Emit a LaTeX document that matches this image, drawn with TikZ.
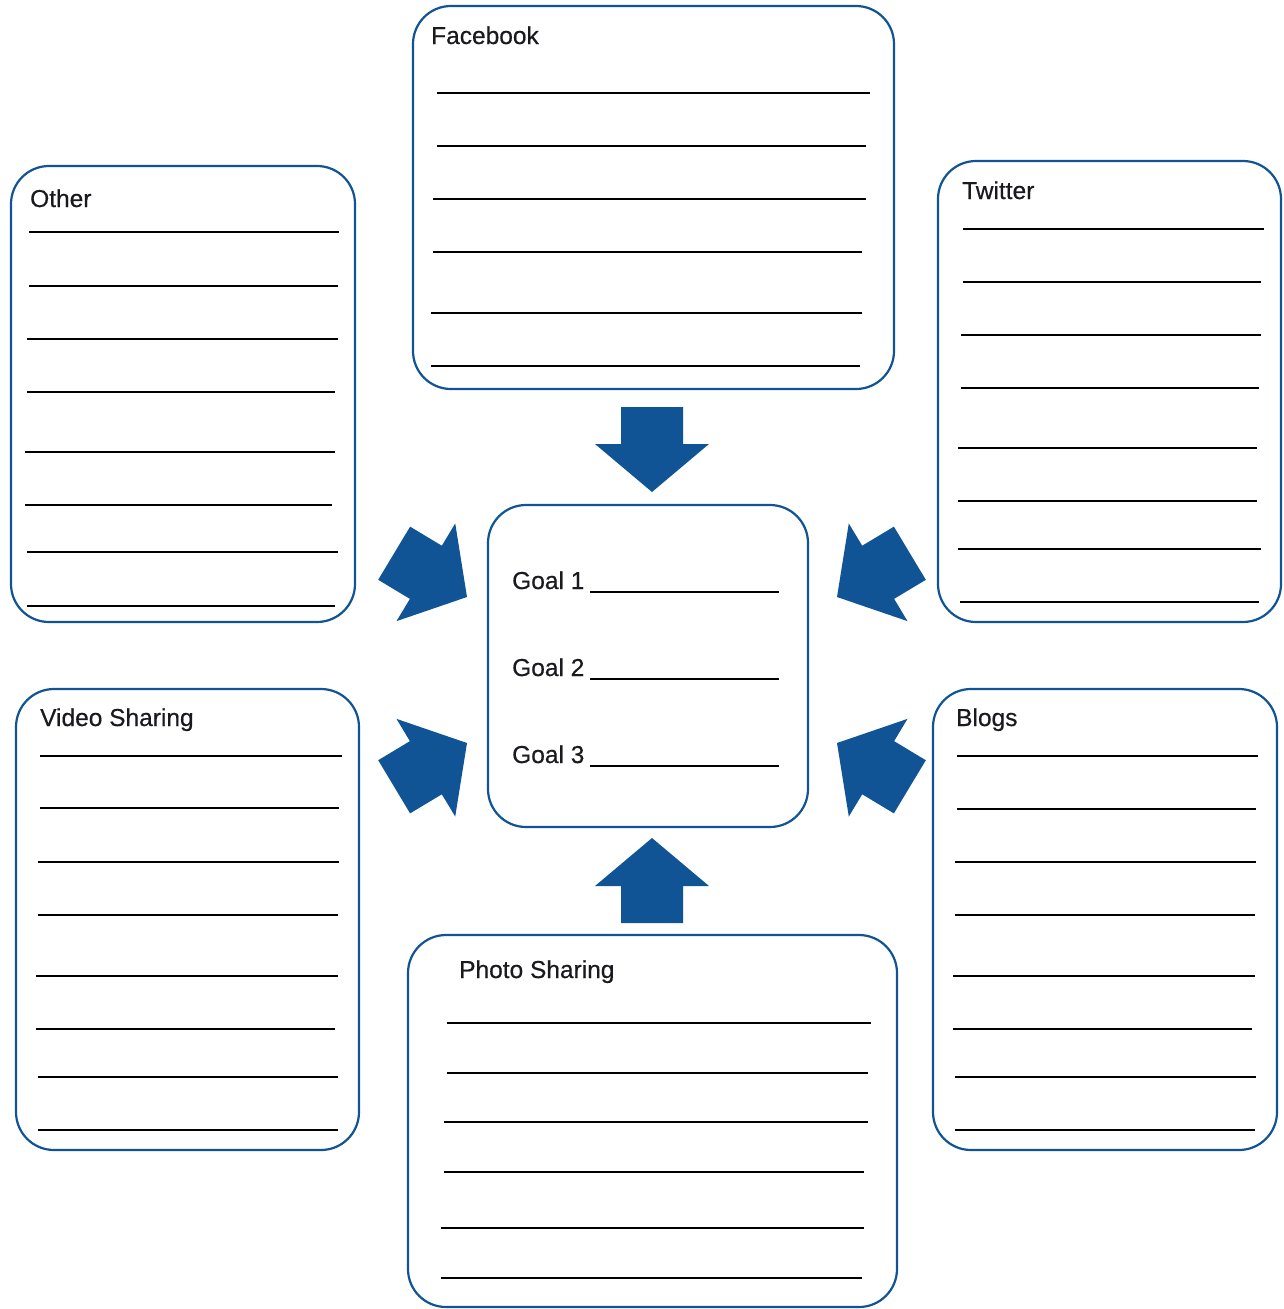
\documentclass[tikz,border=0pt]{standalone}
\usepackage{fontspec}
\setmainfont{Liberation Sans}
\newfontfamily\titlefont{Liberation Sans}[FakeBold=0.5]
\definecolor{sheetblue}{RGB}{16,84,150}
\definecolor{inkgray}{RGB}{25,25,30}
\tikzset{
  card/.style={draw=sheetblue,line width=2.2pt,rounded corners=38pt},
  rule/.style={line width=1.8pt},
  cardtitle/.style={anchor=base west,inner sep=0pt,text=inkgray,font=\titlefont\fontsize{24.5}{28}\selectfont},
  bigarrow/.style={fill=sheetblue},
}
% block arrow: #1 tip, #2 direction
\newcommand{\blockarrow}[2]{%
  \fill[bigarrow,shift={#1},rotate=#2] (0,0) -- (-48pt,57pt) -- (-48pt,31pt) -- (-85pt,31pt)
    -- (-85pt,-31pt) -- (-48pt,-31pt) -- (-48pt,-57pt) -- cycle;}

\begin{document}
\begin{tikzpicture}[x=1pt,y=-1pt]
\useasboundingbox (0,0) rectangle (1283,1309);

% the cards
\draw[card] (413,6) rectangle (894,389);
\draw[card] (11,166) rectangle (355,622);
\draw[card] (938,161) rectangle (1281,622);
\draw[card] (16,689) rectangle (359,1150);
\draw[card] (933,689) rectangle (1277,1150);
\draw[card] (408,935) rectangle (897,1307);
\draw[card] (488,505) rectangle (808,827);

\node[cardtitle] (fb) at (431,44) {Facebook};
\node[cardtitle] (other) at (30,207) {Other};
\node[cardtitle] (tw) at (962,199) {Twitter};
\node[cardtitle] (video) at (40,726) {Video Sharing};
\node[cardtitle] (blogs) at (956,726) {Blogs};
\node[cardtitle] (photo) at (459,978) {Photo Sharing};

% ruled lines
\foreach \y/\a/\b in {93/437/870,146/437/866,199/433/866,252/433/862,313/431/862,366/431/860}
  \draw[rule] (\a,\y) -- (\b,\y);
\foreach \y/\a/\b in {232/29/339,286/29/338,339/27/338,392/27/335,452/25/335,505/25/332,552/27/338,606/27/335}
  \draw[rule] (\a,\y) -- (\b,\y);
\foreach \y/\a/\b in {229/963/1264,282/963/1261,335/961/1261,388/961/1259,448/958/1257,501/958/1257,549/958/1261,602/960/1259}
  \draw[rule] (\a,\y) -- (\b,\y);
\foreach \y/\a/\b in {756/40/342,808/40/339,862/38/339,915/38/338,976/36/338,1029/36/335,1077/38/338,1130/38/338}
  \draw[rule] (\a,\y) -- (\b,\y);
\foreach \y/\a/\b in {756/957/1258,809/957/1256,862/955/1256,915/955/1255,976/953/1255,1029/953/1252,1077/955/1256,1130/955/1255}
  \draw[rule] (\a,\y) -- (\b,\y);
\foreach \y/\a/\b in {1023/447/871,1073/447/868,1122/444/868,1172/444/864,1228/441/864,1278/441/862}
  \draw[rule] (\a,\y) -- (\b,\y);

% goals
\foreach \n/\y in {1/589,2/676,3/763}{
  \node[cardtitle] (goal\n) at (512,\y) {Goal \n};
  \draw[rule] (590,\y+3) -- (779,\y+3);
}

% arrows into the goals
\coordinate (fbtip) at (652,492);
\coordinate (phototip) at (652,838);
\coordinate (othertip) at (467,597);
\coordinate (videotip) at (467,743);
\coordinate (twtip) at (837,597);
\coordinate (blogtip) at (837,743);
\blockarrow{(fbtip)}{-90}
\blockarrow{(phototip)}{90}
\blockarrow{(othertip)}{-31}
\blockarrow{(videotip)}{31}
\blockarrow{(twtip)}{-149}
\blockarrow{(blogtip)}{149}
\end{tikzpicture}
\end{document}
